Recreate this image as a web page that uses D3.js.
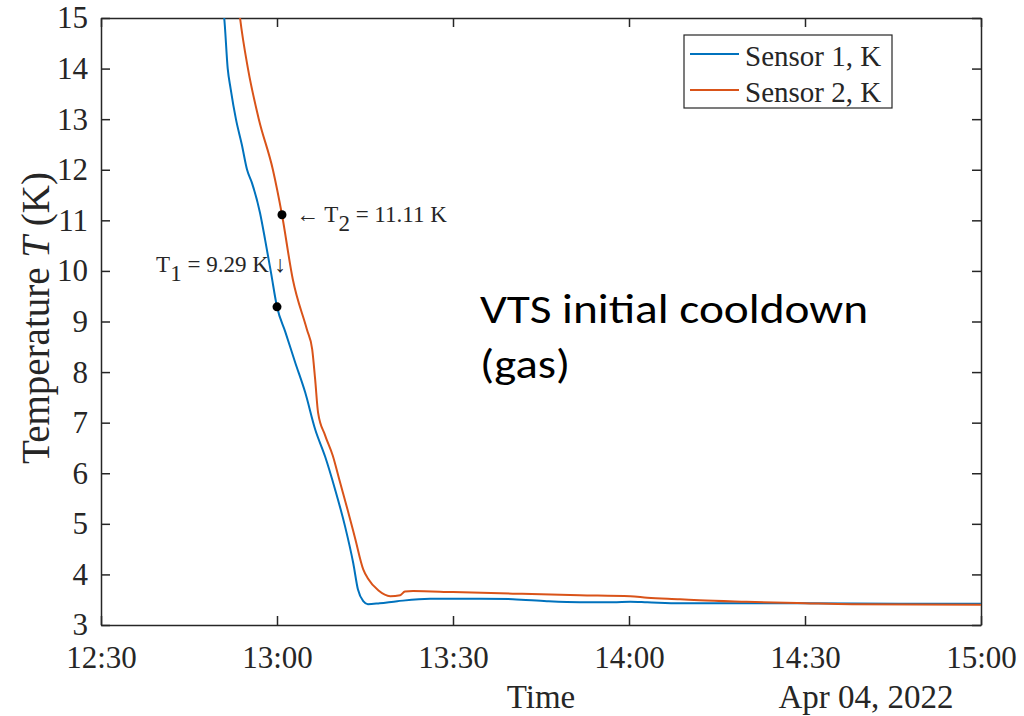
<!DOCTYPE html>
<html>
<head>
<meta charset="utf-8">
<script src="https://cdn.jsdelivr.net/npm/d3@7"></script>
<style>
  body { margin: 0; background: #fff; }
  svg { display: block; }
  .axis path, .axis line { stroke: #262626; stroke-width: 1.5; }
  .serif { font-family: "Liberation Serif", "Times New Roman", serif; fill: #262626; }
</style>
</head>
<body>
<svg id="chart" width="1024" height="716"></svg>
<script>
// chart values
const day = "2022-04-04";
const xDomain = ["12:30:00", "15:00:00"];
const yDomain = [3, 15];
const yTicks = [3, 4, 5, 6, 7, 8, 9, 10, 11, 12, 13, 14, 15];

const seriesNames = ["Sensor 1, K", "Sensor 2, K"];
const seriesColors = ["#0072BD", "#D95319"];

const sensor1Time = ["12:50:36", "12:51:00", "12:51:36", "12:52:06", "12:53:00", "12:54:00", "12:54:54",
  "12:55:42", "12:57:06", "12:58:00", "12:59:00", "13:00:00", "13:01:24", "13:03:06", "13:04:48",
  "13:06:30", "13:08:12", "13:09:54", "13:11:36", "13:13:00", "13:13:48", "13:14:42", "13:15:30",
  "13:17:30", "13:20:30", "13:26:06", "13:30:00", "13:34:36", "13:40:12", "13:46:00", "13:51:36",
  "13:57:18", "14:00:12", "14:03:06", "14:08:42", "14:20:36", "14:30:00", "14:46:00", "15:00:00"];
const sensor1Temp = [15.3, 15.0, 14.0, 13.6, 13.0, 12.5, 12.0,
  11.75, 11.15, 10.6, 9.95, 9.29, 8.8, 8.19, 7.6,
  6.87, 6.33, 5.68, 4.95, 4.22, 3.7, 3.47, 3.41,
  3.43, 3.47, 3.52, 3.52, 3.52, 3.51, 3.47, 3.45,
  3.45, 3.46, 3.45, 3.43, 3.43, 3.43, 3.42, 3.42];

const sensor2Time = ["12:53:24", "12:53:42", "12:55:03", "12:56:54", "12:59:18", "13:00:51", "13:02:42",
  "13:05:06", "13:06:00", "13:06:30", "13:07:00", "13:08:12", "13:09:30", "13:10:42", "13:12:06",
  "13:13:18", "13:14:42", "13:15:30", "13:17:18", "13:19:18", "13:21:00", "13:21:48", "13:23:12",
  "13:30:00", "13:40:12", "13:51:36", "14:00:12", "14:03:06", "14:08:42", "14:12:00", "14:20:00",
  "14:30:00", "14:38:00", "15:00:00"];
const sensor2Temp = [15.3, 15.0, 14.0, 13.0, 12.0, 11.11, 9.83,
  8.84, 8.45, 7.86, 7.2, 6.75, 6.35, 5.84, 5.25,
  4.72, 4.1, 3.92, 3.68, 3.57, 3.59, 3.66, 3.67,
  3.65, 3.62, 3.59, 3.57, 3.54, 3.51, 3.49, 3.46,
  3.43, 3.41, 3.4];

// marked points (sensor 1 at 13:00, sensor 2 just after)
const markTime = ["13:00:00", "13:00:51"];
const markTemp = [9.29, 11.11];

const serifFont = '"Liberation Serif", "Times New Roman", serif';
const parseTime = d3.timeParse("%Y-%m-%d %H:%M:%S");
const toDate = t => parseTime(day + " " + t);

const svg = d3.select("#chart");
const margin = { left: 101, right: 43, top: 18, bottom: 91 };
const W = 1024, H = 716;
const plotW = W - margin.left - margin.right;
const plotH = H - margin.top - margin.bottom;

const x = d3.scaleTime().domain(xDomain.map(toDate)).range([0, plotW]);
const y = d3.scaleLinear().domain(yDomain).range([plotH, 0]);

const g = svg.append("g").attr("transform", `translate(${margin.left},${margin.top})`);

g.append("clipPath").attr("id", "clip")
  .append("rect").attr("width", plotW).attr("height", plotH);

// axes, ticks point inward, mirrored on top/right like a MATLAB box
const xTicks = d3.timeMinute.every(30);
const fmt = d3.timeFormat("%H:%M");

function styleAxis(sel) {
  sel.attr("font-family", serifFont).attr("font-size", 31);
  sel.selectAll("text").style("font-family", serifFont).style("font-size", "31px").attr("fill", "#262626");
}

g.append("g").attr("class", "axis")
  .attr("transform", `translate(0,${plotH})`)
  .call(d3.axisBottom(x).ticks(xTicks).tickFormat(fmt).tickSizeInner(-9).tickSizeOuter(0).tickPadding(21))
  .call(styleAxis);
g.append("g").attr("class", "axis")
  .call(d3.axisTop(x).ticks(xTicks).tickFormat("").tickSizeInner(-9).tickSizeOuter(0));
g.append("g").attr("class", "axis")
  .call(d3.axisLeft(y).tickValues(yTicks).tickFormat(d3.format("d")).tickSizeInner(-9).tickSizeOuter(0).tickPadding(13))
  .call(styleAxis);
g.append("g").attr("class", "axis")
  .attr("transform", `translate(${plotW},0)`)
  .call(d3.axisRight(y).tickValues(yTicks).tickFormat("").tickSizeInner(-9).tickSizeOuter(0));

// series lines
const line = d3.line().x(d => x(d[0])).y(d => y(d[1])).curve(d3.curveMonotoneX);
const series = [
  d3.zip(sensor1Time.map(toDate), sensor1Temp),
  d3.zip(sensor2Time.map(toDate), sensor2Temp)
];
g.append("g").attr("clip-path", "url(#clip)")
  .selectAll("path.series")
  .data(series)
  .enter().append("path")
  .attr("class", "series")
  .attr("fill", "none")
  .attr("stroke", (d, i) => seriesColors[i])
  .attr("stroke-width", 2)
  .attr("stroke-linejoin", "round")
  .attr("d", line);

// marked points
g.selectAll("circle.mark")
  .data(d3.zip(markTime.map(toDate), markTemp))
  .enter().append("circle")
  .attr("class", "mark")
  .attr("cx", d => x(d[0])).attr("cy", d => y(d[1]))
  .attr("r", 4.5).attr("fill", "#000");

// annotations
const t2 = g.append("text").attr("class", "serif").attr("font-size", 23)
  .attr("x", x(toDate(markTime[1])) + 14).attr("y", y(markTemp[1]) + 7);
t2.append("tspan").text("\u2190 T");
t2.append("tspan").attr("dy", 9).text("2");
t2.append("tspan").attr("dy", -9).text(" = " + markTemp[1].toFixed(2) + " K");

const t1 = g.append("text").attr("class", "serif").attr("font-size", 23)
  .attr("x", x(toDate(markTime[0])) + 9).attr("y", y(markTemp[0]) - 35)
  .attr("text-anchor", "end");
t1.append("tspan").text("T");
t1.append("tspan").attr("dy", 9).text("1");
t1.append("tspan").attr("dy", -9).text(" = " + markTemp[0].toFixed(2) + " K \u2193");

// big caption
g.append("text")
  .attr("x", 480 - margin.left).attr("y", 323 - margin.top)
  .attr("font-family", "Carlito, Calibri, Lato, sans-serif").attr("font-size", 42)
  .attr("fill", "#000")
  .attr("textLength", 388).attr("lengthAdjust", "spacingAndGlyphs")
  .text("VTS initial cooldown");
g.append("text")
  .attr("x", 480 - margin.left).attr("y", 378 - margin.top)
  .attr("font-family", "Carlito, Calibri, Lato, sans-serif").attr("font-size", 42)
  .attr("fill", "#000")
  .attr("textLength", 90).attr("lengthAdjust", "spacingAndGlyphs")
  .text("(gas)");

// legend
const lg = svg.append("g").attr("transform", "translate(684,35)");
lg.append("rect").attr("width", 208).attr("height", 73)
  .attr("fill", "#fff").attr("stroke", "#262626").attr("stroke-width", 1.2);
seriesNames.forEach((name, i) => {
  const yy = 19 + i * 36;
  lg.append("line").attr("x1", 6).attr("x2", 55).attr("y1", yy).attr("y2", yy)
    .attr("stroke", seriesColors[i]).attr("stroke-width", 2);
  lg.append("text").attr("class", "serif").attr("font-size", 29)
    .attr("x", 61).attr("y", yy + 12).attr("fill", "#000").text(name);
});

// axis titles
svg.append("text").attr("class", "serif").attr("font-size", 33)
  .attr("x", margin.left + plotW / 2).attr("y", 708).attr("text-anchor", "middle")
  .text("Time");
svg.append("text").attr("class", "serif").attr("font-size", 33)
  .attr("x", 866).attr("y", 708).attr("text-anchor", "middle")
  .text("Apr 04, 2022");

const yl = svg.append("text").attr("class", "serif").attr("font-size", 39)
  .attr("text-anchor", "middle")
  .attr("transform", "translate(49,318) rotate(-90)");
yl.append("tspan").text("Temperature ");
yl.append("tspan").attr("font-style", "italic").text("T");
yl.append("tspan").text(" (K)");
</script>
</body>
</html>
